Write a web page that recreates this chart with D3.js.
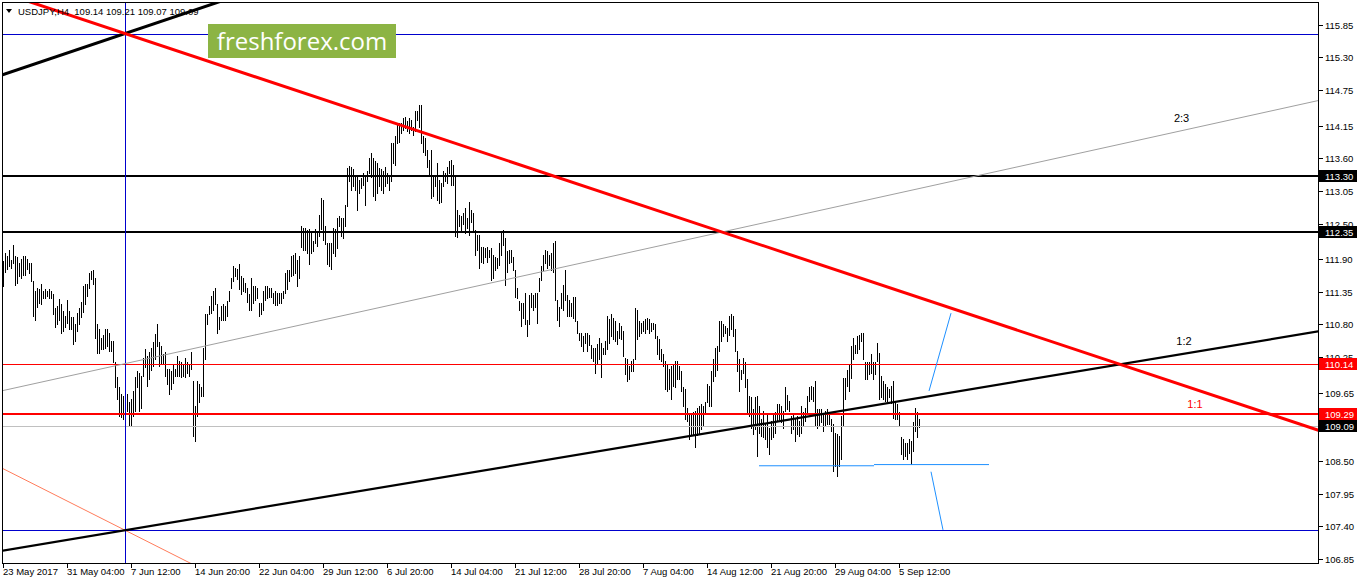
<!DOCTYPE html>
<html><head><meta charset="utf-8">
<script src="https://cdn.jsdelivr.net/npm/d3@7"></script>
<style>html,body{margin:0;padding:0;background:#fff;}svg{display:block;}</style>
</head><body>
<svg id="c" width="1358" height="584"></svg>
<script>
// ---- DATA ----
const symbolTitle = "USDJPY,H4  109.14 109.21 109.07 109.09";
const highs = [
111.87,112.00,111.95,112.05,111.88,112.13,111.95,111.94,111.84,111.91,
111.95,111.95,111.91,111.84,111.84,111.53,111.36,111.42,111.39,111.48,
111.36,111.39,111.36,111.39,111.36,111.31,111.08,111.11,111.23,111.14,
111.03,110.94,111.22,111.03,110.92,110.92,110.80,111.00,111.08,111.17,
111.45,111.48,111.48,111.67,111.70,111.72,111.59,110.80,110.72,110.58,
110.62,110.72,110.73,110.66,110.52,110.52,110.16,109.91,109.74,109.63,
109.60,109.66,109.63,109.49,109.54,109.68,109.91,110.02,109.99,109.94,
110.24,110.38,110.27,110.33,110.41,110.50,110.64,110.80,110.50,110.44,
110.30,110.33,110.05,110.05,110.02,110.13,110.05,110.27,110.19,110.16,
110.13,110.24,110.16,110.13,110.33,109.85,109.43,109.85,109.80,109.74,
110.41,110.97,110.97,111.11,111.28,111.36,111.42,111.14,110.92,111.11,
111.14,111.11,111.20,111.36,111.59,111.78,111.75,111.73,111.81,111.62,
111.59,111.50,111.42,111.31,
111.58,111.44,111.44,111.41,111.16,111.16,
111.36,111.44,111.44,111.41,111.41,111.33,111.36,111.33,111.33,111.33,
111.36,111.67,111.72,111.72,111.95,111.97,112.00,111.89,111.95,112.45,
112.42,112.42,112.39,112.40,
112.34,112.20,112.40,112.34,112.65,112.93,
112.90,112.45,112.17,112.17,112.17,112.43,112.40,112.59,112.62,112.59,
112.59,112.82,113.43,113.47,113.46,113.41,113.29,113.32,113.24,113.27,
113.35,113.32,113.38,113.60,113.69,113.60,113.55,113.52,113.43,113.41,
113.38,113.46,113.35,113.32,113.85,113.85,113.97,114.19,114.19,114.19,
114.27,114.30,114.22,114.27,114.25,114.13,114.39,114.39,114.50,114.50,
113.97,113.94,113.74,113.57,113.74,113.32,113.32,113.52,113.24,113.18,
113.38,113.35,113.46,113.55,113.57,113.49,113.32,
112.73,112.64,112.62,
112.67,112.76,112.59,112.87,112.73,112.67,112.39,112.31,112.31,112.11,
112.11,112.08,112.11,112.06,112.08,111.97,111.94,111.92,112.17,112.36,
112.39,112.25,112.03,112.06,112.06,111.94,111.72,111.41,111.19,111.16,
111.16,111.33,110.88,111.30,111.33,111.30,111.33,111.33,111.58,111.78,
111.97,112.06,112.03,111.97,112.00,112.17,112.20,111.22,111.10,111.33,
111.47,111.72,111.30,111.22,111.16,111.27,111.27,110.85,110.66,110.66,
110.60,110.66,110.66,110.63,110.46,110.40,110.40,
110.47,110.58,110.49,
110.41,110.52,110.94,110.89,110.97,110.91,110.86,110.69,110.83,110.77,
110.69,110.24,110.21,110.10,110.19,110.21,111.08,111.05,110.86,110.83,
110.86,110.89,110.91,110.89,110.83,110.83,110.80,110.61,110.55,110.38,
110.30,110.19,110.13,110.05,110.10,110.13,110.19,110.19,110.10,110.02,
109.74,109.71,109.40,109.29,109.29,109.32,109.35,109.40,109.43,109.46,
109.43,109.49,109.79,109.77,
110.02,110.21,110.41,110.44,110.86,110.86,
110.80,110.77,110.74,110.94,110.97,110.94,110.72,110.35,110.21,110.04,
110.24,110.16,109.88,109.60,109.57,109.37,109.57,109.60,109.43,109.20,
109.34,109.12,109.29,109.06,109.18,109.29,109.32,109.46,109.46,109.43,
109.34,109.74,109.62,109.51,109.26,109.29,109.20,109.26,109.18,109.43,
109.32,109.40,109.60,109.74,109.76,109.74,109.85,109.37,109.37,109.37,
109.29,109.34,109.37,109.32,109.20,109.12,108.98,108.95,108.92,109.26,
109.90,109.90,110.04,110.13,110.44,110.58,110.46,110.60,110.63,110.66,
110.66,110.16,110.16,110.16,110.30,110.16,110.16,110.49,110.32,109.93,
109.85,109.79,109.74,109.71,109.76,109.85,109.51,109.46,109.32,108.90,
108.87,108.81,108.81,108.87,108.84,109.15,109.40,109.32,109.21
];
const lows = [
111.44,111.68,111.74,111.79,111.75,111.84,111.47,111.50,111.61,111.58,
111.64,111.64,111.73,111.67,111.53,110.94,110.88,111.10,111.16,111.15,
111.25,111.25,111.28,111.25,111.25,110.97,110.76,110.80,110.88,110.66,
110.69,110.75,110.83,110.72,110.72,110.47,110.52,110.69,110.80,110.92,
111.01,111.14,111.28,111.42,111.57,111.48,110.58,110.32,110.32,110.38,
110.38,110.41,110.44,110.35,110.35,110.16,109.74,109.54,109.26,109.24,
109.21,109.43,109.35,109.11,109.11,109.26,109.35,109.74,109.35,109.40,
109.94,110.08,109.77,109.88,110.04,110.10,110.21,110.44,110.10,110.13,
110.13,109.94,109.80,109.63,109.71,109.82,109.94,109.94,109.94,109.91,
109.94,109.91,109.99,109.94,110.05,108.92,108.84,109.26,109.49,109.60,
109.60,110.21,110.80,110.97,111.00,111.05,111.14,110.66,110.72,110.88,
110.88,110.88,110.94,111.20,111.42,111.53,111.61,111.56,111.39,111.31,
111.36,111.34,111.17,111.05,
111.05,111.16,111.22,111.25,110.94,110.97,
111.05,111.22,111.25,111.27,111.27,111.16,111.13,111.13,111.16,111.16,
111.25,111.33,111.39,111.53,111.61,111.64,111.67,111.44,111.58,112.11,
112.06,112.06,112.00,111.81,
112.01,112.03,112.17,112.12,112.29,112.40,
112.23,112.15,111.81,111.78,111.73,112.01,111.95,112.09,112.45,112.29,
112.26,112.45,112.79,113.21,113.07,113.13,113.07,112.73,113.01,113.10,
113.15,112.82,113.21,113.35,113.29,112.96,112.90,113.01,113.13,113.07,
113.01,113.13,113.18,113.07,113.21,113.52,113.49,113.85,113.88,114.02,
114.08,114.11,114.05,114.02,114.08,113.99,114.05,114.25,114.13,113.85,
113.71,113.66,113.46,113.32,112.93,112.96,113.13,112.90,112.85,112.87,
113.13,113.21,113.18,113.35,113.15,113.15,112.29,
112.28,112.45,112.36,
112.50,112.34,112.42,112.31,112.53,112.36,111.97,112.06,111.75,111.86,
111.83,111.94,111.86,111.94,111.55,111.58,111.72,111.75,111.80,111.97,
112.14,111.47,111.69,111.83,111.86,111.72,111.27,111.24,111.05,110.77,
110.91,110.80,110.60,110.80,111.10,111.05,111.10,110.82,111.36,111.55,
111.72,111.83,111.75,111.80,111.72,111.69,111.22,110.88,110.77,111.08,
111.05,111.22,110.94,110.94,110.94,110.91,110.85,110.66,110.54,110.43,
110.35,110.49,110.35,110.46,110.24,110.18,109.98,
110.13,110.21,109.91,
110.30,110.30,110.38,110.49,110.61,110.55,110.52,110.47,110.58,110.55,
110.27,109.96,109.85,109.88,110.02,110.02,110.21,110.55,110.61,110.66,
110.69,110.66,110.72,110.66,110.69,110.72,110.58,110.30,110.21,110.19,
110.10,109.71,109.68,109.71,109.54,109.77,109.74,109.88,109.88,109.68,
109.43,109.21,109.18,108.87,108.93,108.93,108.73,108.93,108.98,109.04,
109.10,109.32,109.49,109.43,
109.43,109.85,109.93,110.04,110.35,110.52,
110.60,110.66,110.52,110.63,110.72,110.60,110.35,110.02,109.68,109.88,
109.99,109.74,109.29,109.26,109.06,108.95,109.04,108.59,108.98,108.92,
108.90,108.87,108.73,108.62,108.87,108.90,108.98,109.18,109.20,109.15,
109.06,109.34,109.37,109.34,108.98,109.04,108.84,108.95,108.92,108.98,
109.09,109.18,109.32,109.51,109.54,109.51,109.09,109.06,109.09,109.15,
109.01,109.09,109.12,109.12,109.01,108.34,108.42,108.25,108.42,108.53,
109.09,109.54,109.76,109.68,109.90,110.21,110.32,110.32,110.38,110.52,
110.21,109.88,109.88,109.96,109.99,109.88,109.96,110.18,109.54,109.57,
109.54,109.51,109.51,109.57,109.48,109.23,109.20,109.20,109.09,108.62,
108.53,108.59,108.53,108.64,108.45,108.67,109.01,108.90,109.07
];
const priceTicks = [115.85,115.30,114.75,114.15,113.60,113.05,112.50,111.90,111.35,110.80,110.25,109.65,109.10,108.50,107.95,107.40,106.85];
const timeTickBars = [0,32,64,96,128,160,192,224,256,288,320,352,384,416,448];
const timeTickLabels = ["23 May 2017","31 May 04:00","7 Jun 12:00","14 Jun 20:00","22 Jun 04:00","29 Jun 12:00","6 Jul 20:00","14 Jul 04:00","21 Jul 12:00","28 Jul 20:00","7 Aug 04:00","14 Aug 12:00","21 Aug 20:00","29 Aug 04:00","5 Sep 12:00"];
// horizontal levels (price)
const levelTopBlue = 115.70, levelBottomBlue = 107.335;
const levelBlack = [113.30, 112.35];
const levelRedThin = 110.14, levelRedThick = 109.29, levelLast = 109.09;
const priceMarkers = [113.30, 112.35, 110.14, 109.29, 109.09];
const markerKinds = ["black","black","red","red","black"];
const vLineBar = 61;
// trend lines: [bar, price] anchor pairs (rays extended across chart)
const redTrend   = [[61,115.70],[657.5,109.02]];
const blackTop   = [[61,115.70],[106,116.21]];
const fan12      = [[61,107.335],[657.5,110.683]];
const fan23      = [[61,110.14],[657.5,114.57]];
const orangeRay  = [[-0.5,108.38],[61,107.335]];
// segments (not extended)
const blueSegs = [[[378,108.42],[435.5,108.42]],[[435.5,108.44],[493,108.44]],[[463,109.68],[474,110.99]],[[464,108.32],[470,107.34]]];
const fanLabels = ["2:3","1:2","1:1"];
const fanLabelPos = [[589.3,114.21],[590.5,110.454],[596,109.39]];

// ---- DRAW ----
const svg = d3.select("#c");
const L=2, T=2, R=1318, B=563;
const x = d3.scaleLinear().domain([0,657.5]).range([3,1318]);
const y = d3.scaleLinear().domain([106.85,115.85]).range([559.0,24.6]);
const FONT = "'Liberation Sans', Arial, sans-serif";

svg.append("rect").attr("width",1358).attr("height",584).attr("fill","#fff");
svg.append("defs").append("clipPath").attr("id","clip").append("rect")
  .attr("x",L+1).attr("y",T+1).attr("width",R-L-1).attr("height",B-T-1);

const plot = svg.append("g").attr("clip-path","url(#clip)");

// bars
plot.append("g").attr("shape-rendering","crispEdges").selectAll("line").data(highs).join("line")
  .attr("x1",(d,i)=>Math.round(x(i))+0.5).attr("x2",(d,i)=>Math.round(x(i))+0.5)
  .attr("y1",d=>Math.round(y(d))).attr("y2",(d,i)=>Math.round(y(lows[i]))+1)
  .attr("stroke","#000").attr("stroke-width",1);

function hline(p,color,w){
  const yy = w%2===1 ? Math.round(y(p))+0.5 : Math.round(y(p));
  plot.append("line").attr("x1",L).attr("x2",R).attr("y1",yy).attr("y2",yy)
    .attr("stroke",color).attr("stroke-width",w).attr("shape-rendering","crispEdges");
}
hline(levelLast,"#c0c0c0",1);
hline(levelTopBlue,"#0000cd",1);
hline(levelBottomBlue,"#0000cd",1);
levelBlack.forEach(p=>hline(p,"#000",2));
hline(levelRedThin,"#ff0000",1);
hline(levelRedThick,"#ff0000",2);

// vertical line
plot.append("line").attr("x1",Math.round(x(vLineBar))+0.5).attr("x2",Math.round(x(vLineBar))+0.5)
  .attr("y1",T).attr("y2",B).attr("stroke","#0000cd").attr("stroke-width",1).attr("shape-rendering","crispEdges");

function ray(a,color,w){
  const [[b1,p1],[b2,p2]] = a;
  const s = (p2-p1)/(b2-b1);
  const bs=-5, be=700;
  plot.append("line")
    .attr("x1",x(bs)).attr("y1",y(p1+(bs-b1)*s))
    .attr("x2",x(be)).attr("y2",y(p1+(be-b1)*s))
    .attr("stroke",color).attr("stroke-width",w);
}
ray(fan23,"#a0a0a0",1);
ray(orangeRay,"#ff7b5a",1);
ray(fan12,"#000",2.2);
ray(blackTop,"#000",3);
ray(redTrend,"#ff0000",3);

blueSegs.forEach(sg=>{
  plot.append("line").attr("x1",x(sg[0][0])).attr("y1",y(sg[0][1]))
    .attr("x2",x(sg[1][0])).attr("y2",y(sg[1][1]))
    .attr("stroke","#1e90ff").attr("stroke-width",1);
});

// fan labels
fanLabels.forEach((t,i)=>{
  plot.append("text").attr("x",x(fanLabelPos[i][0])).attr("y",y(fanLabelPos[i][1]))
    .attr("text-anchor","middle").attr("font-family",FONT).attr("font-size","11px")
    .attr("fill", t==="1:1" ? "#ff0000" : "#000").text(t);
});

// frame
svg.append("rect").attr("x",L+0.5).attr("y",T+0.5).attr("width",R-L).attr("height",B-T)
  .attr("fill","none").attr("stroke","#000").attr("stroke-width",1).attr("shape-rendering","crispEdges");

// right axis ticks
const ax = svg.append("g").attr("font-family",FONT).attr("font-size","9.5px");
priceTicks.forEach(v=>{
  const yy = Math.round(y(v))+0.5;
  ax.append("line").attr("x1",R+1).attr("x2",R+5).attr("y1",yy).attr("y2",yy)
    .attr("stroke","#000").attr("shape-rendering","crispEdges");
  ax.append("text").attr("x",R+7).attr("y",yy+3.5).attr("fill","#000").text(v.toFixed(2));
});
// price markers
priceMarkers.forEach((v,i)=>{
  const yy = Math.round(y(v));
  ax.append("rect").attr("x",R+1).attr("y",yy-6).attr("width",38).attr("height",12)
    .attr("fill", markerKinds[i]==="red" ? "#ff0000" : "#000");
  ax.append("text").attr("x",R+7).attr("y",yy+4).attr("fill","#fff").text(v.toFixed(2));
});

// bottom axis ticks
timeTickBars.forEach((b,i)=>{
  const xx = Math.round(x(b))+0.5;
  ax.append("line").attr("x1",xx).attr("x2",xx).attr("y1",B+1).attr("y2",B+5)
    .attr("stroke","#000").attr("shape-rendering","crispEdges");
  ax.append("text").attr("x",xx-0.5).attr("y",575).attr("fill","#000").text(timeTickLabels[i]);
});

// logo
svg.append("rect").attr("x",208).attr("y",24).attr("width",188).attr("height",34).attr("fill","#8cb444");
svg.append("text").attr("x",302).attr("y",50).attr("text-anchor","middle")
  .attr("font-family","'Open Sans', sans-serif").attr("font-size","24px").attr("fill","#fff").text("freshforex.com");

// header
svg.append("path").attr("d","M6,9 L12,9 L9,13 Z").attr("fill","#000");
svg.append("text").attr("x",18).attr("y",14.5).attr("font-family",FONT).attr("font-size","9.5px")
  .attr("fill","#000").attr("xml:space","preserve").style("white-space","pre").text(symbolTitle);
</script>
</body></html>
